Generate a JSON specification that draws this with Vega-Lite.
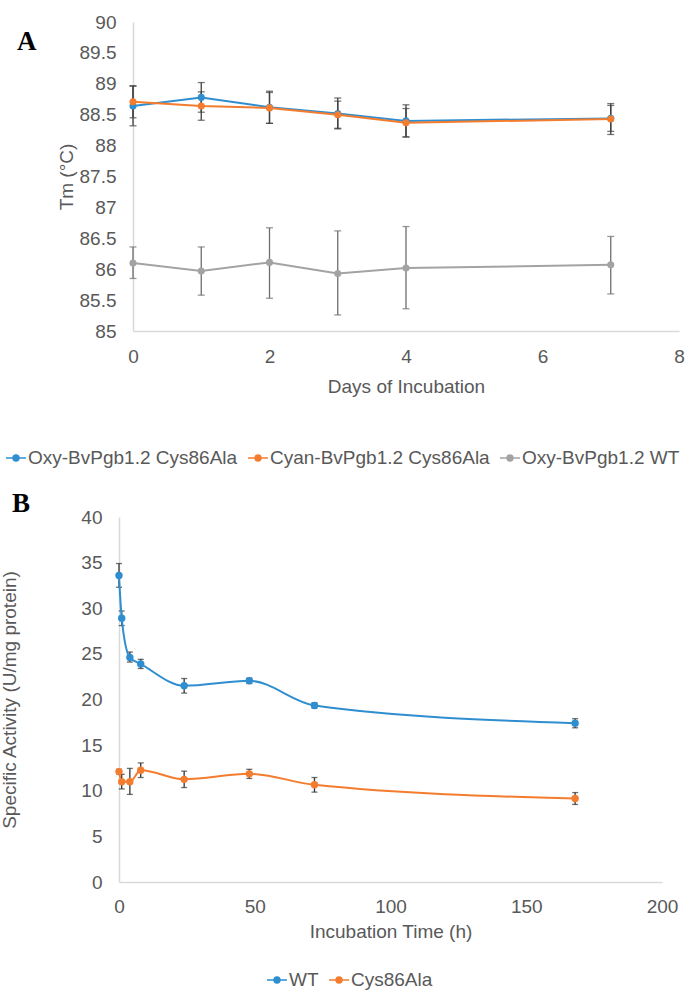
{
  "$schema": "https://vega.github.io/schema/vega-lite/v6.json",
  "background": "white",
  "padding": {"left": 0, "top": 13, "right": 0, "bottom": 0},
  "columns": 1,
  "spacing": 22,
  "config": {
    "font": "Liberation Sans",
    "view": {"stroke": null},
    "axis": {
      "grid": false,
      "ticks": false,
      "labelFlush": false,
      "labelOverlap": false,
      "domainColor": "#D9D9D9",
      "domainWidth": 1.5,
      "labelColor": "#595959",
      "labelFontSize": 19,
      "labelFont": "Liberation Sans",
      "titleColor": "#595959",
      "titleFontSize": 19,
      "titleFont": "Liberation Sans",
      "titleFontWeight": "normal"
    },
    "legend": {
      "title": null,
      "orient": "none",
      "direction": "horizontal",
      "labelFontSize": 19,
      "labelFont": "Liberation Sans",
      "labelColor": "#595959",
      "labelLimit": 0,
      "symbolType": "M-1,0H1M-0.29,0A0.29,0.29,0,1,1,0.29,0A0.29,0.29,0,1,1,-0.29,0Z",
      "symbolSize": 400,
      "symbolStrokeWidth": 1.6,
      "labelOffset": 1,
      "columnPadding": 6
    },
    "title": {
      "font": "Liberation Serif",
      "fontSize": 27,
      "fontWeight": "bold",
      "color": "black",
      "anchor": "start",
      "frame": "group",
      "offset": 0
    }
  },
  "resolve": {
    "scale": {"x": "independent", "y": "independent", "color": "independent"},
    "legend": {"color": "independent"}
  },
  "concat": [
    {
      "title": {"text": "A", "dx": -116, "dy": 47},
      "width": 546,
      "height": 309,
      "data": {
        "values": [
          {"series": "Oxy-BvPgb1.2 Cys86Ala", "day": 0, "tm": 88.64, "lo": 88.32, "hi": 88.96},
          {"series": "Oxy-BvPgb1.2 Cys86Ala", "day": 1, "tm": 88.78, "lo": 88.54, "hi": 89.02},
          {"series": "Oxy-BvPgb1.2 Cys86Ala", "day": 2, "tm": 88.62, "lo": 88.36, "hi": 88.88},
          {"series": "Oxy-BvPgb1.2 Cys86Ala", "day": 3, "tm": 88.52, "lo": 88.27, "hi": 88.77},
          {"series": "Oxy-BvPgb1.2 Cys86Ala", "day": 4, "tm": 88.40, "lo": 88.14, "hi": 88.66},
          {"series": "Oxy-BvPgb1.2 Cys86Ala", "day": 7, "tm": 88.44, "lo": 88.23, "hi": 88.65},
          {"series": "Cyan-BvPgb1.2 Cys86Ala", "day": 0, "tm": 88.71, "lo": 88.45, "hi": 88.97},
          {"series": "Cyan-BvPgb1.2 Cys86Ala", "day": 1, "tm": 88.64, "lo": 88.41, "hi": 88.87},
          {"series": "Cyan-BvPgb1.2 Cys86Ala", "day": 2, "tm": 88.61, "lo": 88.36, "hi": 88.86},
          {"series": "Cyan-BvPgb1.2 Cys86Ala", "day": 3, "tm": 88.50, "lo": 88.28, "hi": 88.72},
          {"series": "Cyan-BvPgb1.2 Cys86Ala", "day": 4, "tm": 88.37, "lo": 88.14, "hi": 88.60},
          {"series": "Cyan-BvPgb1.2 Cys86Ala", "day": 7, "tm": 88.43, "lo": 88.18, "hi": 88.68},
          {"series": "Oxy-BvPgb1.2 WT", "day": 0, "tm": 86.10, "lo": 85.85, "hi": 86.36},
          {"series": "Oxy-BvPgb1.2 WT", "day": 1, "tm": 85.97, "lo": 85.58, "hi": 86.36},
          {"series": "Oxy-BvPgb1.2 WT", "day": 2, "tm": 86.11, "lo": 85.53, "hi": 86.67},
          {"series": "Oxy-BvPgb1.2 WT", "day": 3, "tm": 85.93, "lo": 85.26, "hi": 86.62},
          {"series": "Oxy-BvPgb1.2 WT", "day": 4, "tm": 86.02, "lo": 85.36, "hi": 86.69},
          {"series": "Oxy-BvPgb1.2 WT", "day": 7, "tm": 86.07, "lo": 85.60, "hi": 86.53}
        ]
      },
      "encoding": {
        "x": {
          "field": "day",
          "type": "quantitative",
          "scale": {"domain": [0, 8], "nice": false, "zero": false},
          "axis": {"title": "Days of Incubation", "values": [0, 2, 4, 6, 8], "labelPadding": 16, "titlePadding": 11}
        }
      },
      "layer": [
        {
          "transform": [{"filter": "datum.series !== 'Oxy-BvPgb1.2 WT'"}],
          "mark": {"type": "errorbar", "ticks": true, "size": 7, "thickness": 1.3, "color": "#404040"},
          "encoding": {
            "y": {
              "field": "lo",
              "type": "quantitative",
              "scale": {"domain": [85, 90], "nice": false, "zero": false},
              "title": "Tm (°C)",
              "axis": {"values": [85, 85.5, 86, 86.5, 87, 87.5, 88, 88.5, 89, 89.5, 90], "format": "~g", "labelOverlap": false, "labelPadding": 17, "titlePadding": 3}
            },
            "y2": {"field": "hi"}
          }
        },
        {
          "transform": [{"filter": "datum.series === 'Oxy-BvPgb1.2 WT'"}],
          "mark": {"type": "errorbar", "ticks": true, "size": 7, "thickness": 1.3, "color": "#6E6E6E"},
          "encoding": {
            "y": {
              "field": "lo",
              "type": "quantitative",
              "scale": {"domain": [85, 90], "nice": false, "zero": false},
              "title": "Tm (°C)",
              "axis": {"values": [85, 85.5, 86, 86.5, 87, 87.5, 88, 88.5, 89, 89.5, 90], "format": "~g", "labelOverlap": false, "labelPadding": 17, "titlePadding": 3}
            },
            "y2": {"field": "hi"}
          }
        },
        {
          "mark": {"type": "line", "strokeWidth": 2},
          "encoding": {
            "y": {
              "field": "tm",
              "type": "quantitative",
              "scale": {"domain": [85, 90], "nice": false, "zero": false},
              "title": "Tm (°C)",
              "axis": {"values": [85, 85.5, 86, 86.5, 87, 87.5, 88, 88.5, 89, 89.5, 90], "format": "~g", "labelOverlap": false, "labelPadding": 17, "titlePadding": 3}
            },
            "color": {
              "field": "series",
              "type": "nominal",
              "sort": null,
              "scale": {
                "domain": ["Oxy-BvPgb1.2 Cys86Ala", "Cyan-BvPgb1.2 Cys86Ala", "Oxy-BvPgb1.2 WT"],
                "range": ["#2F8ED0", "#F47C2E", "#A3A3A3"]
              },
              "legend": {"legendX": -128, "legendY": 425}
            }
          }
        },
        {
          "mark": {"type": "point", "filled": true, "size": 50, "opacity": 1},
          "encoding": {
            "y": {
              "field": "tm",
              "type": "quantitative",
              "scale": {"domain": [85, 90], "nice": false, "zero": false},
              "title": "Tm (°C)",
              "axis": {"values": [85, 85.5, 86, 86.5, 87, 87.5, 88, 88.5, 89, 89.5, 90], "format": "~g", "labelOverlap": false, "labelPadding": 17, "titlePadding": 3}
            },
            "color": {
              "field": "series",
              "type": "nominal",
              "sort": null,
              "scale": {
                "domain": ["Oxy-BvPgb1.2 Cys86Ala", "Cyan-BvPgb1.2 Cys86Ala", "Oxy-BvPgb1.2 WT"],
                "range": ["#2F8ED0", "#F47C2E", "#A3A3A3"]
              },
              "legend": {"legendX": -128, "legendY": 425}
            }
          }
        }
      ]
    },
    {
      "title": {"text": "B", "dx": -121, "dy": 14},
      "width": 538,
      "height": 365,
      "data": {
        "values": [
          {"sample": "WT", "hours": 0, "activity": 33.6, "lo": 32.3, "hi": 34.9},
          {"sample": "WT", "hours": 1, "activity": 28.9, "lo": 28.1, "hi": 29.7},
          {"sample": "WT", "hours": 4, "activity": 24.6, "lo": 24.1, "hi": 25.2},
          {"sample": "WT", "hours": 8, "activity": 23.9, "lo": 23.4, "hi": 24.4},
          {"sample": "WT", "hours": 24, "activity": 21.5, "lo": 20.7, "hi": 22.3},
          {"sample": "WT", "hours": 48, "activity": 22.05, "lo": 21.75, "hi": 22.35},
          {"sample": "WT", "hours": 72, "activity": 19.35, "lo": 19.05, "hi": 19.65},
          {"sample": "WT", "hours": 168, "activity": 17.4, "lo": 16.9, "hi": 17.9},
          {"sample": "Cys86Ala", "hours": 0, "activity": 12.1, "lo": 11.85, "hi": 12.35},
          {"sample": "Cys86Ala", "hours": 1, "activity": 11.0, "lo": 10.2, "hi": 11.8},
          {"sample": "Cys86Ala", "hours": 4, "activity": 11.0, "lo": 9.6, "hi": 12.45},
          {"sample": "Cys86Ala", "hours": 8, "activity": 12.25, "lo": 11.45, "hi": 13.05},
          {"sample": "Cys86Ala", "hours": 24, "activity": 11.25, "lo": 10.35, "hi": 12.15},
          {"sample": "Cys86Ala", "hours": 48, "activity": 11.85, "lo": 11.35, "hi": 12.35},
          {"sample": "Cys86Ala", "hours": 72, "activity": 10.65, "lo": 9.85, "hi": 11.45},
          {"sample": "Cys86Ala", "hours": 168, "activity": 9.15, "lo": 8.5, "hi": 9.8}
        ]
      },
      "encoding": {
        "x": {
          "field": "hours",
          "type": "quantitative",
          "scale": {"domain": [0, 200], "nice": false, "range": [-14, 529]},
          "axis": {"title": "Incubation Time (h)", "values": [0, 50, 100, 150, 200], "labelPadding": 15, "titlePadding": 6}
        }
      },
      "layer": [
        {
          "mark": {"type": "errorbar", "ticks": true, "size": 6, "thickness": 1.3, "color": "#333333"},
          "encoding": {
            "y": {
              "field": "lo",
              "type": "quantitative",
              "scale": {"domain": [0, 40], "nice": false},
              "title": "Specific Activity (U/mg protein)",
              "axis": {"values": [0, 5, 10, 15, 20, 25, 30, 35, 40], "offset": 14, "labelPadding": 17, "titlePadding": 61}
            },
            "y2": {"field": "hi"}
          }
        },
        {
          "mark": {"type": "line", "strokeWidth": 2, "interpolate": "monotone"},
          "encoding": {
            "y": {
              "field": "activity",
              "type": "quantitative",
              "scale": {"domain": [0, 40], "nice": false},
              "title": "Specific Activity (U/mg protein)",
              "axis": {"values": [0, 5, 10, 15, 20, 25, 30, 35, 40], "offset": 14, "labelPadding": 17, "titlePadding": 61}
            },
            "color": {
              "field": "sample",
              "type": "nominal",
              "sort": null,
              "scale": {"domain": ["WT", "Cys86Ala"], "range": ["#2F8ED0", "#F47C2E"]},
              "legend": {"legendX": 133, "legendY": 452}
            }
          }
        },
        {
          "mark": {"type": "point", "filled": true, "size": 55, "opacity": 1},
          "encoding": {
            "y": {
              "field": "activity",
              "type": "quantitative",
              "scale": {"domain": [0, 40], "nice": false},
              "title": "Specific Activity (U/mg protein)",
              "axis": {"values": [0, 5, 10, 15, 20, 25, 30, 35, 40], "offset": 14, "labelPadding": 17, "titlePadding": 61}
            },
            "color": {
              "field": "sample",
              "type": "nominal",
              "sort": null,
              "scale": {"domain": ["WT", "Cys86Ala"], "range": ["#2F8ED0", "#F47C2E"]},
              "legend": {"legendX": 133, "legendY": 452}
            }
          }
        }
      ]
    }
  ]
}
